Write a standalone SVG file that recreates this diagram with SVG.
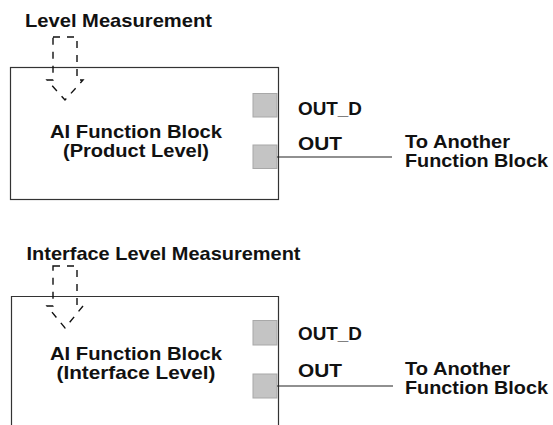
<svg xmlns="http://www.w3.org/2000/svg" width="553" height="425" viewBox="0 0 553 425">
<style>
.t{font-family:"Liberation Sans",Arial,sans-serif;font-weight:bold;font-size:18.5px;fill:#111}
.c{text-anchor:middle}
.box{fill:none;stroke:#333;stroke-width:1.2}
.port{fill:#c4c4c4;stroke:#a8a8a8;stroke-width:1}
.wire{fill:none;stroke:#222;stroke-width:1.2}
.da{fill:none;stroke:#111;stroke-width:1.4;stroke-dasharray:7 7}
</style>
<rect width="553" height="425" fill="#fff"/>
<g id="block-product">
<rect class="box" x="10.5" y="67.5" width="268" height="132"/>
<text class="t c" x="136" y="138" textLength="172" lengthAdjust="spacingAndGlyphs">AI Function Block</text>
<text class="t c" x="136" y="157" textLength="146" lengthAdjust="spacingAndGlyphs">(Product Level)</text>
</g>
<g id="title-level">
<text class="t" x="25" y="27" textLength="187" lengthAdjust="spacingAndGlyphs">Level Measurement</text>
</g>
<g id="port-outd-1">
<rect class="port" x="253" y="93.5" width="24" height="23.5"/>
<text class="t" x="298" y="115" textLength="64" lengthAdjust="spacingAndGlyphs">OUT_D</text>
</g>
<g id="port-out-1">
<rect class="port" x="253" y="145" width="24" height="23.5"/>
<text class="t" x="298" y="150" textLength="44" lengthAdjust="spacingAndGlyphs">OUT</text>
</g>
<g id="target-1">
<text class="t" x="405" y="148" textLength="105" lengthAdjust="spacingAndGlyphs">To Another</text>
<text class="t" x="405" y="167" textLength="143" lengthAdjust="spacingAndGlyphs">Function Block</text>
</g>
<g id="block-interface">
<path class="box" d="M11.5,430 V296.5 H278.5 V430"/>
<text class="t c" x="136" y="360" textLength="172" lengthAdjust="spacingAndGlyphs">AI Function Block</text>
<text class="t c" x="136" y="379" textLength="159" lengthAdjust="spacingAndGlyphs">(Interface Level)</text>
</g>
<g id="title-interface">
<text class="t" x="26.5" y="260" textLength="274" lengthAdjust="spacingAndGlyphs">Interface Level Measurement</text>
</g>
<g id="port-outd-2">
<rect class="port" x="253" y="320.5" width="24" height="24.5"/>
<text class="t" x="298" y="340" textLength="64" lengthAdjust="spacingAndGlyphs">OUT_D</text>
</g>
<g id="port-out-2">
<rect class="port" x="253" y="374" width="24" height="24"/>
<text class="t" x="298" y="377" textLength="44" lengthAdjust="spacingAndGlyphs">OUT</text>
</g>
<g id="target-2">
<text class="t" x="405" y="375" textLength="105" lengthAdjust="spacingAndGlyphs">To Another</text>
<text class="t" x="405" y="394" textLength="143" lengthAdjust="spacingAndGlyphs">Function Block</text>
</g>
<g id="connectors">
<path class="da" d="M53,37 H77 V80 H83 L65,100 L47,80 H53 Z"/>
<path class="da" d="M53,266 H77 V306 H83 L65,328 L47,306 H53 Z"/>
<line class="wire" x1="277" y1="157" x2="392" y2="157"/>
<line class="wire" x1="277" y1="386" x2="393" y2="386"/>
</g>
</svg>
